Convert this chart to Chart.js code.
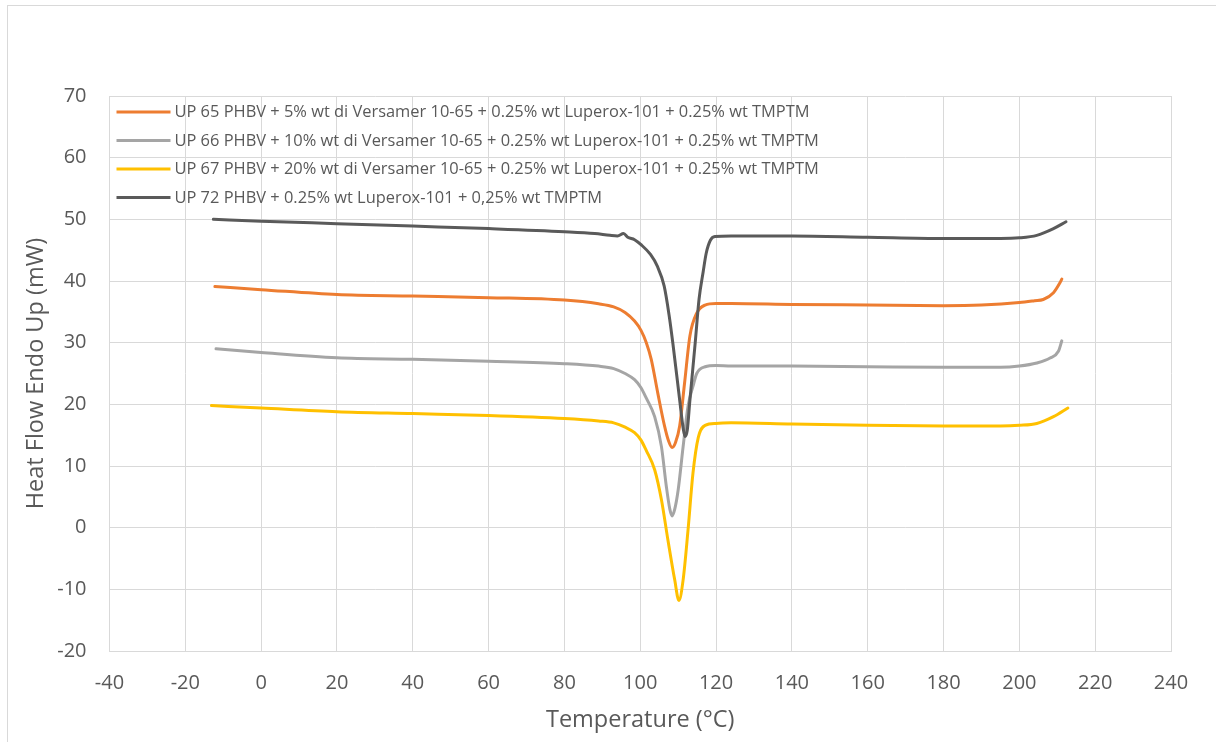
<!DOCTYPE html>
<html><head><meta charset="utf-8">
<script src="https://cdn.jsdelivr.net/npm/chart.js@4.4.1/dist/chart.umd.min.js"></script>
<style>html,body{margin:0;padding:0;background:#fff;}canvas{display:block;}</style>
</head><body>
<canvas id="c" width="1216" height="742"></canvas>
<script>
// ---- data ----
const seriesLabels = [
  'UP 65 PHBV + 5% wt di Versamer 10-65 + 0.25% wt Luperox-101 + 0.25% wt TMPTM',
  'UP 66 PHBV + 10% wt di Versamer 10-65 + 0.25% wt Luperox-101 + 0.25% wt TMPTM',
  'UP 67 PHBV + 20% wt di Versamer 10-65 + 0.25% wt Luperox-101 + 0.25% wt TMPTM',
  'UP 72 PHBV + 0.25% wt Luperox-101 + 0,25% wt TMPTM'
];
const seriesColors = ['#ed7d31', '#a5a5a5', '#ffc000', '#5a5a5a'];

const tempUP65 = [-12.2,0,20,40,60,80,89,93,96,98.5,100.2,101.6,102.9,104.6,106.4,107.5,108.4,109.3,110.4,111.7,113.1,114.9,117.1,120,124,140,160,180,190,200,204,206.3,209,210.7,211.2];
const heatUP65 = [39.1,38.6,37.8,37.55,37.3,36.9,36.3,35.8,34.9,33.5,32.0,30.0,27.3,21.9,16.5,14.0,13.0,13.8,16.5,23.5,31.1,34.8,36.1,36.35,36.35,36.2,36.1,36.0,36.1,36.5,36.8,37.0,38.1,39.7,40.3];

const tempUP66 = [-11.9,0,20,40,60,80,89,93,96,98.5,100.2,101.6,103.8,105.6,106.9,107.8,108.4,109.1,110,111.3,112.6,113.9,114.9,117.1,120,124,140,160,180,195,200,204.6,208.1,210.3,211.2];
const heatUP66 = [29.0,28.4,27.55,27.3,27.0,26.6,26.2,25.8,25.0,24.0,22.7,21.0,18.0,13.1,6.6,3.0,1.9,3.0,6.1,13.1,19.7,22.9,25.0,26.1,26.3,26.2,26.2,26.1,26.0,26.0,26.2,26.7,27.5,28.6,30.3];

const tempUP67 = [-13.1,0,20,40,60,80,89,93,96,98.5,100.2,101.6,103.8,105.6,107.3,109.1,110.2,111.3,112.6,113.9,115.3,117.1,120,124,140,160,180,195,200,204.6,209,212.8];
const heatUP67 = [19.8,19.4,18.8,18.5,18.2,17.7,17.3,17.0,16.3,15.4,14.2,12.5,9.4,4.5,-2.0,-8.5,-11.8,-8.5,-0.4,8.8,14.6,16.6,16.9,17.0,16.8,16.6,16.5,16.5,16.6,16.9,18.0,19.4];

const tempUP72 = [-12.6,0,20,40,60,80,88,92,94,95.6,96.7,98.5,100.2,102.7,104.5,106.3,107.6,108.6,110.4,111.3,111.8,112.4,113.1,114.5,115.5,116.6,117.4,118.5,119.7,124,140,160,180,195,200,204.6,209,212.3];
const heatUP72 = [50.0,49.7,49.3,48.9,48.5,48.0,47.7,47.4,47.3,47.7,47.1,46.7,45.9,44.3,42.4,39.2,34.5,29.9,20.7,16.2,14.8,15.8,20.7,30.0,37.0,41.5,44.5,46.6,47.2,47.3,47.3,47.1,46.9,46.9,47.0,47.4,48.5,49.6];

const xTickValues = [-40,-20,0,20,40,60,80,100,120,140,160,180,200,220,240];
const yTickValues = [-20,-10,0,10,20,30,40,50,60,70];
const xTitle = 'Temperature (°C)';
const yTitle = 'Heat Flow Endo Up (mW)';

// ---- build ----
const pts = (xs, ys) => xs.map((x, i) => ({x: x, y: ys[i]}));
const seriesData = [pts(tempUP65, heatUP65), pts(tempUP66, heatUP66), pts(tempUP67, heatUP67), pts(tempUP72, heatUP72)];

const FONT = "'Open Sans', 'Noto Sans', sans-serif";
const TXT = '#595959';
const GRID = '#d9d9d9';

const framePlugin = {
  id: 'frame',
  beforeDraw(chart) {
    const ctx = chart.ctx;
    ctx.save();
    ctx.fillStyle = '#fff';
    ctx.fillRect(0, 0, chart.width, chart.height);
    ctx.strokeStyle = GRID;
    ctx.lineWidth = 1;
    ctx.strokeRect(7.5, 5.5, chart.width + 20, chart.height + 20);
    ctx.restore();
  }
};

const legendPlugin = {
  id: 'innerLegend',
  afterDatasetsDraw(chart) {
    const ctx = chart.ctx;
    const area = chart.chartArea;
    ctx.save();
    ctx.font = '15.5px ' + FONT;
    ctx.textBaseline = 'middle';
    ctx.textAlign = 'left';
    const w0 = ctx.measureText(chart.data.datasets[0].label).width;
    const sx = w0 > 0 ? Math.min(1.15, Math.max(0.85, 635 / w0)) : 1;
    chart.data.datasets.forEach((ds, i) => {
      const y = area.top + 16 + i * 28.5;
      ctx.strokeStyle = ds.borderColor;
      ctx.lineWidth = 3;
      ctx.beginPath();
      ctx.moveTo(area.left + 7, y);
      ctx.lineTo(area.left + 61, y);
      ctx.stroke();
      ctx.fillStyle = TXT;
      ctx.save();
      ctx.translate(area.left + 65, y + 1);
      ctx.scale(sx, 1);
      ctx.fillText(ds.label, 0, 0);
      ctx.restore();
    });
    ctx.restore();
  }
};

const datasets = seriesLabels.map((lab, i) => ({
  label: lab,
  data: seriesData[i],
  borderColor: seriesColors[i],
  backgroundColor: seriesColors[i],
  borderWidth: 3,
  pointRadius: 0,
  showLine: true,
  fill: false,
  cubicInterpolationMode: 'monotone',
  borderCapStyle: 'round',
  borderJoinStyle: 'round',
  order: seriesLabels.length - i
}));

new Chart(document.getElementById('c'), {
  type: 'scatter',
  data: { datasets: datasets },
  options: {
    responsive: false,
    animation: false,
    devicePixelRatio: 1,
    layout: { padding: { top: 96, right: 45, left: 0, bottom: 0 } },
    plugins: { legend: { display: false }, tooltip: { enabled: false } },
    scales: {
      x: {
        type: 'linear',
        min: -40, max: 240,
        afterBuildTicks: s => { s.ticks = xTickValues.map(v => ({value: v})); },
        afterFit: s => { s.height = 91; },
        grid: { color: GRID, lineWidth: 1, drawTicks: false },
        border: { color: GRID },
        ticks: { color: TXT, font: { family: FONT, size: 20 }, padding: 20, maxRotation: 0, autoSkip: false },
        title: { display: true, text: xTitle, color: TXT, font: { family: FONT, size: 23.5 }, padding: { top: 0, bottom: 8 } }
      },
      y: {
        type: 'linear',
        min: -20, max: 70,
        afterBuildTicks: s => { s.ticks = yTickValues.map(v => ({value: v})); },
        afterFit: s => { s.width = 109.5; },
        grid: { color: GRID, lineWidth: 1, drawTicks: false },
        border: { color: GRID },
        ticks: { color: TXT, font: { family: FONT, size: 20 }, padding: 23, autoSkip: false },
        title: { display: true, text: yTitle, color: TXT, font: { family: FONT, size: 23.5 }, padding: { top: 22, bottom: 0 } }
      }
    }
  },
  plugins: [framePlugin, legendPlugin]
});
</script>
</body></html>
